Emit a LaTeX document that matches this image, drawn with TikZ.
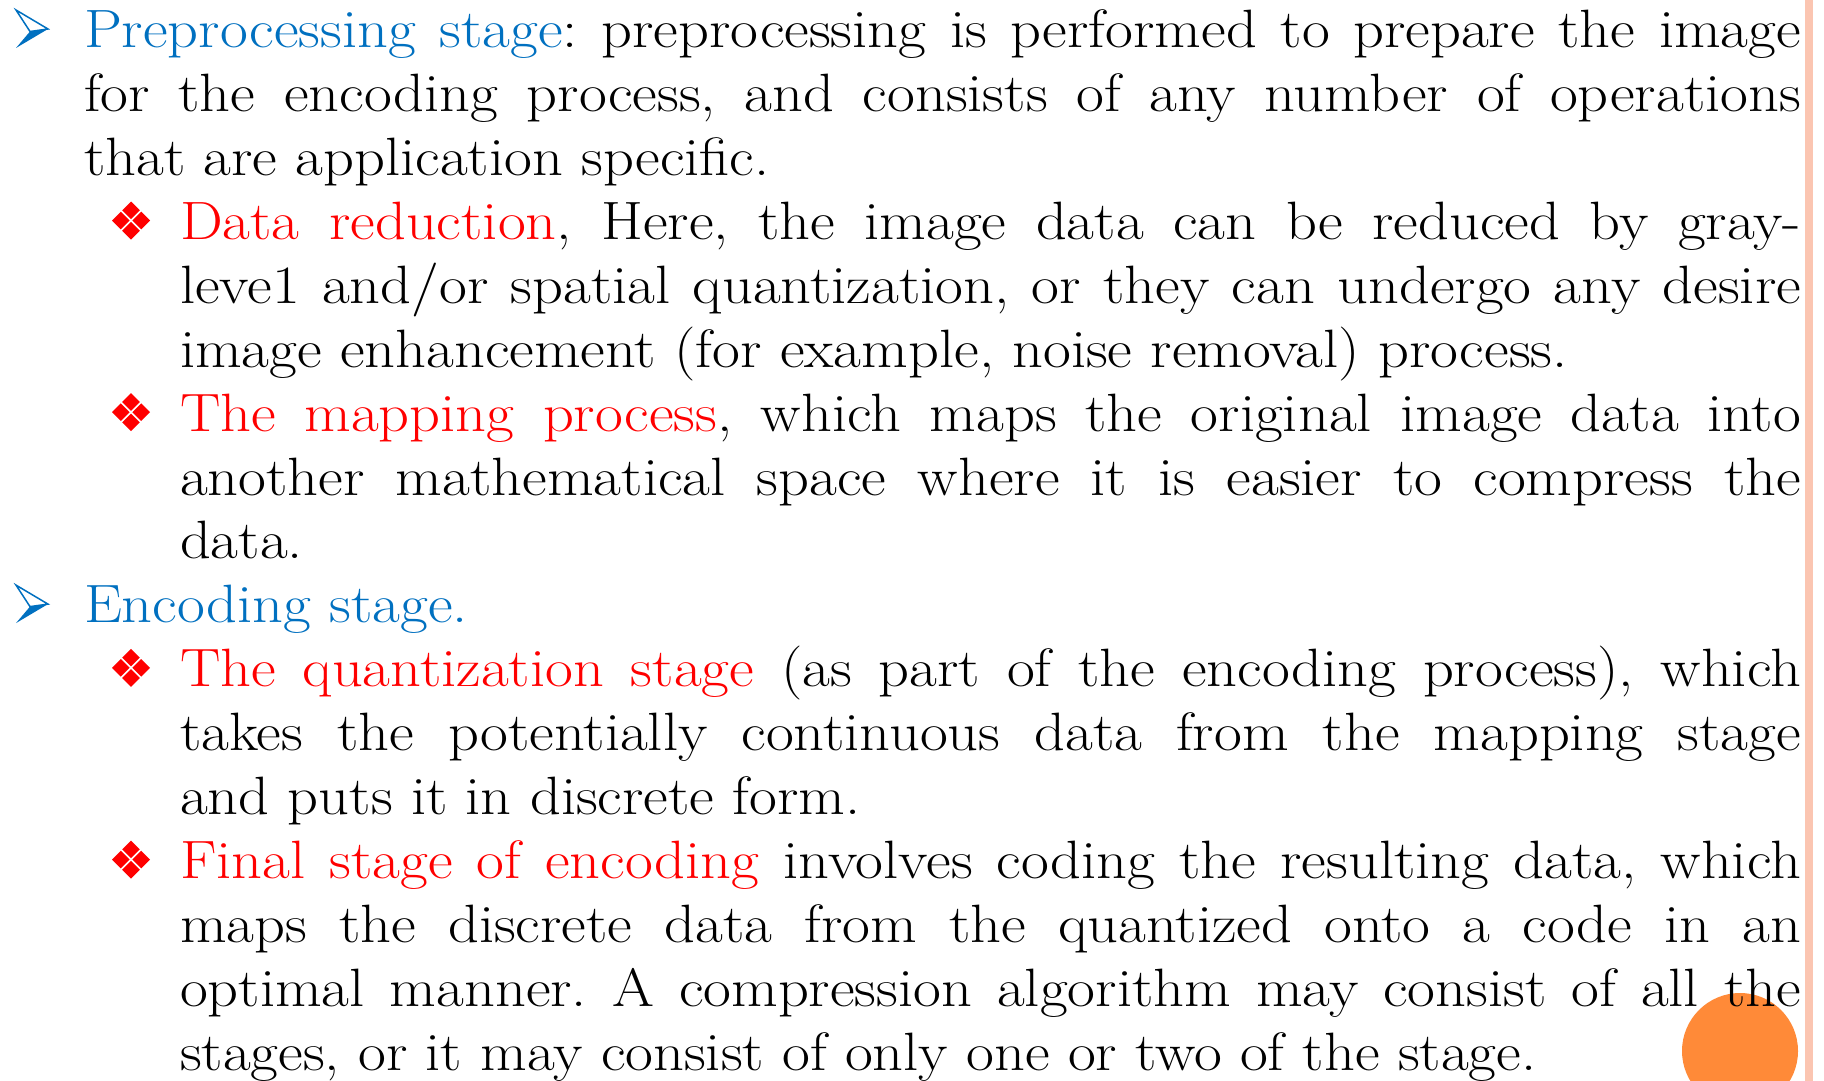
\documentclass[tikz,border=0pt]{standalone}
\usepackage{fontspec}
\setmainfont[FakeStretch=1.12]{Latin Modern Roman}
\definecolor{headblue}{HTML}{0070C0}
\definecolor{keyred}{HTML}{FF0000}
\definecolor{dotorange}{HTML}{FF8A38}
\definecolor{edgepink}{HTML}{FBC5B1}
\newcommand\bodyfont{\fontsize{54}{63.9}\selectfont\frenchspacing}
\newcommand\hd[1]{\textcolor{headblue}{#1}}
\newcommand\kw[1]{\textcolor{keyred}{#1}}

\tikzset{
  body/.style={anchor=north west, inner sep=0pt, outer sep=0pt, align=justify, font=\bodyfont},
  lvlone/.style={body, text width=1717pt},
  lvltwo/.style={body, text width=1621pt},
  % three-d arrowhead bullet: outlined upper half, solid lower half
  arrowbul/.pic={
    \fill[headblue] (-2,2.5) -- (16,0) -- (-16,19) -- cycle;
    \draw[headblue, line width=1.5pt, line join=miter, fill=white]
      (-16,-19) -- (16,0) -- (-2,2.5) -- cycle;
  },
  % four small diamonds arranged as a diamond
  diamondbul/.pic={
    \foreach \cx/\cy in {-10.2/0, 10.2/0, 0/-10.2, 0/10.2}{
      \fill[keyred] (\cx-8.8,\cy) -- (\cx,\cy-8.8) -- (\cx+8.8,\cy) -- (\cx,\cy+8.8) -- cycle;
    }
  }
}

\begin{document}
\begin{tikzpicture}[x=1pt, y=-1pt]
  \fill[white] (0,0) rectangle (1824,1081);
  \useasboundingbox (0,0) rectangle (1824,1081);

  % right-hand edge band and corner dot
  \fill[edgepink] (1805,0) rectangle (1813,1081);
  \fill[dotorange] (1740,1051) circle[radius=58];

  % first level: preprocessing
  \pic at (32,29) {arrowbul};
  \node[lvlone] (pre) at (84,2.97) {\noindent\strut\hd{Preprocessing stage}: preprocessing is performed to prepare the image\linebreak
    for the encoding process, and consists of any number of operations\linebreak
    that are application specific.};

  \pic at (131,220.5) {diamondbul};
  \node[lvltwo] (dr) at (180,194.67) {\noindent\strut\kw{Data reduction}, Here, the image data can be reduced by gray-\linebreak
    leve1 and/or spatial quantization, or they can undergo any desire\linebreak
    image enhancement (for example, noise removal) process.};

  \pic at (131,412.2) {diamondbul};
  \node[lvltwo] (mp) at (180,386.37) {\noindent\strut\kw{The mapping process}, which maps the original image data into\linebreak
    another mathematical space where it is easier to compress the\linebreak
    data.};

  % first level: encoding
  \pic at (32,604.1) {arrowbul};
  \node[lvlone] (enc) at (84,578.07) {\noindent\strut\hd{Encoding stage.}};

  \pic at (131,667.8) {diamondbul};
  \node[lvltwo] (qs) at (180,641.97) {\noindent\strut\kw{The quantization stage} (as part of the encoding process), which\linebreak
    takes the potentially continuous data from the mapping stage\linebreak
    and puts it in discrete form.};

  \pic at (131,859.5) {diamondbul};
  \node[lvltwo] (fs) at (180,833.67) {\noindent\strut\kw{Final stage of encoding} involves coding the resulting data, which\linebreak
    maps the discrete data from the quantized onto a code in an\linebreak
    optimal manner. A compression algorithm may consist of all the\linebreak
    stages, or it may consist of only one or two of the stage.};
\end{tikzpicture}
\end{document}
